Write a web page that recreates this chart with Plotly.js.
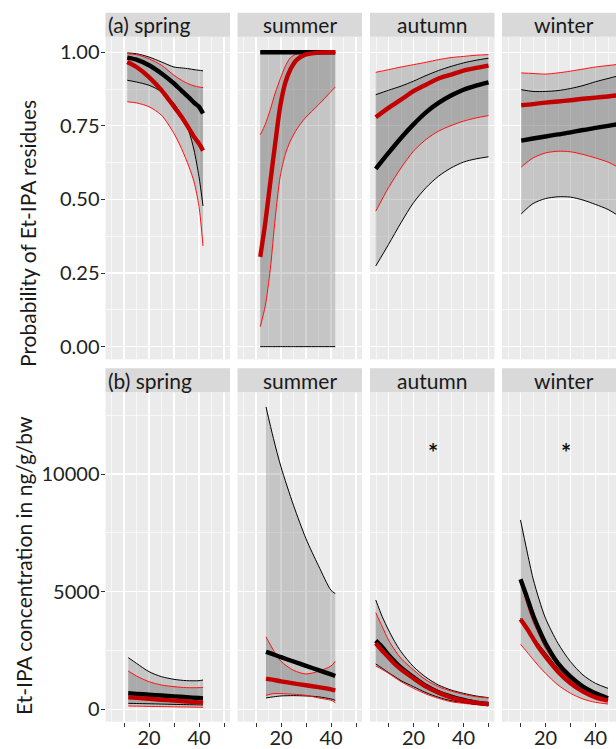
<!DOCTYPE html>
<html><head><meta charset="utf-8">
<script src="https://cdn.plot.ly/plotly-3.0.1.min.js"></script>
<style>html,body{margin:0;padding:0;overflow:hidden;background:#fff}#chart{width:630px;height:749px}</style>
</head><body><div id="chart"></div>
<script>
// ---------- Data ----------
const seasons = ["spring", "summer", "autumn", "winter"];
const rowLabels = ["(a)", "(b)"];
const yTitleA = "Probability of Et-IPA residues";
const yTitleB = "Et-IPA concentration in ng/g/bw";
const xTickVals = [10, 20, 30, 40, 50];
const xTickText = ["", "20", "", "40", ""];
const yTickValsA = [0, 0.25, 0.5, 0.75, 1];
const yTickTextA = ["0.00", "0.25", "0.50", "0.75", "1.00"];
const yTickValsB = [0, 5000, 10000];
const yTickTextB = ["0", "5000", "10000"];

// (a) spring
const xA_spring = [11.3, 15, 20, 25, 30, 33, 36, 38, 40, 41.6];
const a_spring_black = [0.982, 0.975, 0.956, 0.928, 0.894, 0.870, 0.846, 0.829, 0.815, 0.792];
const a_spring_black_lo = [0.905, 0.899, 0.888, 0.866, 0.826, 0.786, 0.73, 0.668, 0.577, 0.478];
const a_spring_black_hi = [0.998, 0.995, 0.984, 0.967, 0.95, 0.947, 0.944, 0.941, 0.939, 0.937];
const a_spring_red = [0.967, 0.95, 0.916, 0.871, 0.815, 0.781, 0.741, 0.713, 0.69, 0.666];
const a_spring_red_lo = [0.832, 0.828, 0.815, 0.786, 0.724, 0.673, 0.611, 0.56, 0.476, 0.342];
const a_spring_red_hi = [0.995, 0.992, 0.978, 0.956, 0.922, 0.905, 0.892, 0.886, 0.882, 0.88];

// (a) summer
const xA_summer = [11.7, 13.7, 15.7, 17.7, 19.7, 21.7, 23.7, 26.4, 29.7, 35, 41.7];
const a_summer_black = [1, 1, 1, 1, 1, 1, 1, 1, 1, 1, 1];
const a_summer_black_lo = [0, 0, 0, 0, 0, 0, 0, 0, 0, 0, 0];
const a_summer_black_hi = [1, 1, 1, 1, 1, 1, 1, 1, 1, 1, 1];
const a_summer_red = [0.305, 0.42, 0.557, 0.692, 0.817, 0.896, 0.941, 0.975, 0.992, 0.999, 1.0];
const a_summer_red_lo = [0.068, 0.138, 0.262, 0.438, 0.579, 0.653, 0.698, 0.74, 0.777, 0.822, 0.882];
const a_summer_red_hi = [0.72, 0.755, 0.805, 0.862, 0.91, 0.952, 0.981, 0.995, 1, 1, 1];

// (a) autumn
const xA_autumn = [4.9, 10, 15, 20, 25, 30, 35, 40, 45, 50];
const a_autumn_black = [0.604, 0.658, 0.709, 0.755, 0.796, 0.828, 0.853, 0.873, 0.887, 0.898];
const a_autumn_black_lo = [0.274, 0.347, 0.421, 0.489, 0.54, 0.579, 0.607, 0.627, 0.638, 0.645];
const a_autumn_black_hi = [0.856, 0.871, 0.885, 0.902, 0.921, 0.938, 0.952, 0.964, 0.973, 0.98];
const a_autumn_red = [0.779, 0.811, 0.839, 0.868, 0.89, 0.911, 0.924, 0.938, 0.947, 0.955];
const a_autumn_red_lo = [0.46, 0.54, 0.607, 0.664, 0.704, 0.732, 0.751, 0.766, 0.777, 0.785];
const a_autumn_red_hi = [0.932, 0.941, 0.95, 0.958, 0.966, 0.975, 0.982, 0.986, 0.99, 0.992];

// (a) winter
const xA_winter = [10.3, 15, 20, 25, 30, 35, 40, 45, 50];
const a_winter_black = [0.70, 0.707, 0.714, 0.721, 0.728, 0.736, 0.743, 0.750, 0.757];
const a_winter_black_lo = [0.451, 0.486, 0.503, 0.509, 0.508, 0.498, 0.483, 0.466, 0.44];
const a_winter_black_hi = [0.873, 0.867, 0.867, 0.87, 0.877, 0.887, 0.9, 0.911, 0.922];
const a_winter_red = [0.82, 0.824, 0.829, 0.833, 0.837, 0.842, 0.846, 0.85, 0.855];
const a_winter_red_lo = [0.61, 0.641, 0.658, 0.664, 0.662, 0.653, 0.641, 0.627, 0.605];
const a_winter_red_hi = [0.93, 0.928, 0.926, 0.93, 0.936, 0.943, 0.95, 0.955, 0.96];

// (b) spring
const xB_spring = [11.7, 15, 20, 25, 30, 35, 40, 41.6];
const b_spring_black = [680, 656, 621, 585, 549, 513, 478, 466];
const b_spring_black_lo = [254, 246, 234, 222, 210, 198, 187, 183];
const b_spring_black_hi = [2195, 1953, 1600, 1387, 1274, 1217, 1217, 1245];
const b_spring_red = [509, 484, 446, 408, 370, 332, 294, 282];
const b_spring_red_lo = [140, 134, 124, 115, 105, 96, 87, 84];
const b_spring_red_hi = [1628, 1415, 1174, 1033, 962, 920, 920, 934];

// (b) summer
const xB_summer = [14, 17, 20, 25, 30, 35, 40, 41.7];
const b_summer_black = [2437, 2330, 2216, 2030, 1848, 1665, 1481, 1417];
const b_summer_black_lo = [482, 530, 567, 580, 567, 530, 440, 383];
const b_summer_black_hi = [12850, 11500, 10300, 8670, 7250, 6100, 5060, 4920];
const b_summer_red = [1304, 1250, 1190, 1100, 1020, 940, 850, 808];
const b_summer_red_lo = [595, 666, 666, 638, 595, 482, 383, 283];
const b_summer_red_hi = [3075, 2508, 2040, 1658, 1502, 1615, 1842, 2040];

// (b) autumn
const xB_autumn = [4.9, 7.5, 10, 12.5, 15, 20, 25, 30, 35, 40, 45, 50];
const b_autumn_black = [2917, 2634, 2308, 2025, 1770, 1359, 991, 721, 537, 395, 282, 225];
const b_autumn_black_lo = [1926, 1742, 1557, 1387, 1217, 962, 708, 509, 367, 282, 225, 183];
const b_autumn_black_hi = [4645, 3937, 3370, 2874, 2449, 1812, 1359, 1033, 820, 679, 566, 495];
const b_autumn_red = [2804, 2492, 2209, 1926, 1700, 1317, 963, 708, 509, 367, 282, 211];
const b_autumn_red_lo = [1841, 1690, 1529, 1350, 1175, 891, 650, 466, 324, 254, 197, 155];
const b_autumn_red_hi = [4108, 3512, 2945, 2520, 2166, 1671, 1246, 962, 778, 636, 537, 481];

// (b) winter
const xB_winter = [10, 12.5, 15, 17.5, 20, 25, 30, 35, 40, 45];
const b_winter_black = [5525, 4788, 4008, 3371, 2804, 1954, 1387, 962, 679, 466];
const b_winter_black_lo = [3867, 3471, 3088, 2740, 2407, 1741, 1246, 821, 538, 396];
const b_winter_black_hi = [8047, 6772, 5567, 4646, 3867, 2804, 2025, 1458, 1104, 891];
const b_winter_red = [3825, 3442, 3017, 2592, 2237, 1600, 1104, 750, 508, 367];
const b_winter_red_lo = [2762, 2450, 2124, 1812, 1529, 1033, 679, 437, 296, 225];
const b_winter_red_hi = [5425, 4505, 3725, 3158, 2592, 1813, 1246, 821, 608, 466];

// significance markers (panel b autumn & winter)
const starX = [27.9, 28];
const starY = [10900, 10900];

// ---------- Build figure ----------
const panels = [
  [xA_spring, a_spring_black, a_spring_black_lo, a_spring_black_hi, a_spring_red, a_spring_red_lo, a_spring_red_hi],
  [xA_summer, a_summer_black, a_summer_black_lo, a_summer_black_hi, a_summer_red, a_summer_red_lo, a_summer_red_hi],
  [xA_autumn, a_autumn_black, a_autumn_black_lo, a_autumn_black_hi, a_autumn_red, a_autumn_red_lo, a_autumn_red_hi],
  [xA_winter, a_winter_black, a_winter_black_lo, a_winter_black_hi, a_winter_red, a_winter_red_lo, a_winter_red_hi],
  [xB_spring, b_spring_black, b_spring_black_lo, b_spring_black_hi, b_spring_red, b_spring_red_lo, b_spring_red_hi],
  [xB_summer, b_summer_black, b_summer_black_lo, b_summer_black_hi, b_summer_red, b_summer_red_lo, b_summer_red_hi],
  [xB_autumn, b_autumn_black, b_autumn_black_lo, b_autumn_black_hi, b_autumn_red, b_autumn_red_lo, b_autumn_red_hi],
  [xB_winter, b_winter_black, b_winter_black_lo, b_winter_black_hi, b_winter_red, b_winter_red_lo, b_winter_red_hi]
];

const W = 630, H = 749;
const colPx = [[105.5, 230], [237.5, 362], [370, 494.5], [502, 626.5]];
const rowPx = [{strip: [12.7, 36.7], panel: [36.7, 359.3]}, {strip: [368.3, 392.3], panel: [392.3, 721.7]}];
const FONT = "Lato, 'Open Sans', sans-serif";
const RIB = "rgba(110,110,110,0.30)";
const RED_THICK = "#C30000", RED_THIN = "#FF1010";

const traces = [];
const layout = {
  width: W, height: H,
  margin: {l: 0, r: 0, t: 0, b: 0, pad: 0},
  paper_bgcolor: "#FFFFFF", plot_bgcolor: "#EBEBEB",
  showlegend: false,
  font: {family: FONT, size: 20, color: "#222"},
  shapes: [], annotations: []
};

panels.forEach((p, k) => {
  const r = Math.floor(k / 4), c = k % 4, n = k + 1;
  const xs = n === 1 ? "x" : "x" + n, ys = n === 1 ? "y" : "y" + n;
  const [x, bf, blo, bhi, rf, rlo, rhi] = p;
  const base = {xaxis: xs, yaxis: ys, mode: "lines", hoverinfo: "skip"};
  const sp = {shape: "spline", smoothing: 0.8};
  // ribbons (lower edge, then upper edge filled to it)
  traces.push(Object.assign({}, base, {x: x, y: blo, line: Object.assign({width: 0}, sp)}));
  traces.push(Object.assign({}, base, {x: x, y: bhi, fill: "tonexty", fillcolor: RIB, line: Object.assign({width: 0}, sp)}));
  traces.push(Object.assign({}, base, {x: x, y: rlo, line: Object.assign({width: 0}, sp)}));
  traces.push(Object.assign({}, base, {x: x, y: rhi, fill: "tonexty", fillcolor: RIB, line: Object.assign({width: 0}, sp)}));
  // confidence limits
  traces.push(Object.assign({}, base, {x: x, y: blo, line: Object.assign({color: "#000", width: 1}, sp)}));
  traces.push(Object.assign({}, base, {x: x, y: bhi, line: Object.assign({color: "#000", width: 1}, sp)}));
  traces.push(Object.assign({}, base, {x: x, y: rlo, line: Object.assign({color: RED_THIN, width: 1}, sp)}));
  traces.push(Object.assign({}, base, {x: x, y: rhi, line: Object.assign({color: RED_THIN, width: 1}, sp)}));
  // fitted curves
  traces.push(Object.assign({}, base, {x: x, y: bf, line: Object.assign({color: "#000", width: 4.4}, sp)}));
  traces.push(Object.assign({}, base, {x: x, y: rf, line: Object.assign({color: RED_THICK, width: 4.4}, sp)}));

  const xk = n === 1 ? "xaxis" : "xaxis" + n, yk = n === 1 ? "yaxis" : "yaxis" + n;
  layout[xk] = {
    domain: [colPx[c][0] / W, colPx[c][1] / W], anchor: ys,
    range: [2.6, 52.4], fixedrange: true,
    tickmode: "array", tickvals: xTickVals, ticktext: xTickText,
    showticklabels: r === 1, ticks: r === 1 ? "outside" : "",
    ticklen: 4, tickwidth: 1, tickcolor: "#333", ticklabelstandoff: -6,
    tickfont: {family: FONT, size: 20, color: "#222"},
    showgrid: true, gridcolor: "#FFFFFF", gridwidth: 1.2,
    minor: {tickmode: "array", tickvals: [5, 15, 25, 35, 45], showgrid: true, gridcolor: "#FFFFFF", gridwidth: 0.6, ticks: ""},
    zeroline: false, showline: false
  };
  const rowA = r === 0;
  layout[yk] = {
    domain: [1 - rowPx[r].panel[1] / H, 1 - rowPx[r].panel[0] / H], anchor: xs,
    range: rowA ? [-0.043, 1.053] : [-527, 13472], fixedrange: true,
    tickmode: "array", tickvals: rowA ? yTickValsA : yTickValsB, ticktext: rowA ? yTickTextA : yTickTextB,
    showticklabels: c === 0, ticks: c === 0 ? "outside" : "",
    ticklen: 4, tickwidth: 1, tickcolor: "#333", ticklabelstandoff: -3,
    tickfont: {family: FONT, size: 20, color: "#222"},
    showgrid: true, gridcolor: "#FFFFFF", gridwidth: 1.2,
    minor: {tickmode: "array", tickvals: rowA ? [0.125, 0.375, 0.625, 0.875] : [2500, 7500, 12500], showgrid: true, gridcolor: "#FFFFFF", gridwidth: 0.6, ticks: ""},
    zeroline: false, showline: false
  };

  // strip
  layout.shapes.push({type: "rect", xref: "paper", yref: "paper",
    x0: colPx[c][0] / W, x1: colPx[c][1] / W,
    y0: 1 - rowPx[r].strip[1] / H, y1: 1 - rowPx[r].strip[0] / H,
    fillcolor: "#D9D9D9", line: {width: 0}});
  const label = c === 0 ? rowLabels[r] + " " + seasons[c] : seasons[c];
  layout.annotations.push({xref: "paper", yref: "paper",
    x: c === 0 ? 106 / W : (colPx[c][0] + colPx[c][1]) / 2 / W,
    xanchor: c === 0 ? "left" : "center",
    y: 1 - (rowPx[r].strip[0] + rowPx[r].strip[1]) / 2 / H, yanchor: "middle",
    text: label, showarrow: false, font: {family: FONT, size: 21, color: "#1A1A1A"}});
});

// axis titles
layout.annotations.push({xref: "paper", yref: "paper", x: 28 / W, y: 1 - 234 / H, xanchor: "center", yanchor: "middle",
  text: yTitleA, textangle: -90, showarrow: false, font: {family: FONT, size: 21, color: "#1A1A1A"}});
layout.annotations.push({xref: "paper", yref: "paper", x: 23 / W, y: 1 - 566 / H, xanchor: "center", yanchor: "middle",
  text: yTitleB, textangle: -90, showarrow: false, font: {family: FONT, size: 21, color: "#1A1A1A"}});

// asterisks
["7", "8"].forEach((s, i) => {
  layout.annotations.push({xref: "x" + s, yref: "y" + s, x: starX[i], y: starY[i], xanchor: "center", yanchor: "middle",
    text: "<b>*</b>", showarrow: false, font: {family: FONT, size: 24, color: "#111"}});
});

Plotly.newPlot("chart", traces, layout, {displayModeBar: false, staticPlot: true});
</script></body></html>
